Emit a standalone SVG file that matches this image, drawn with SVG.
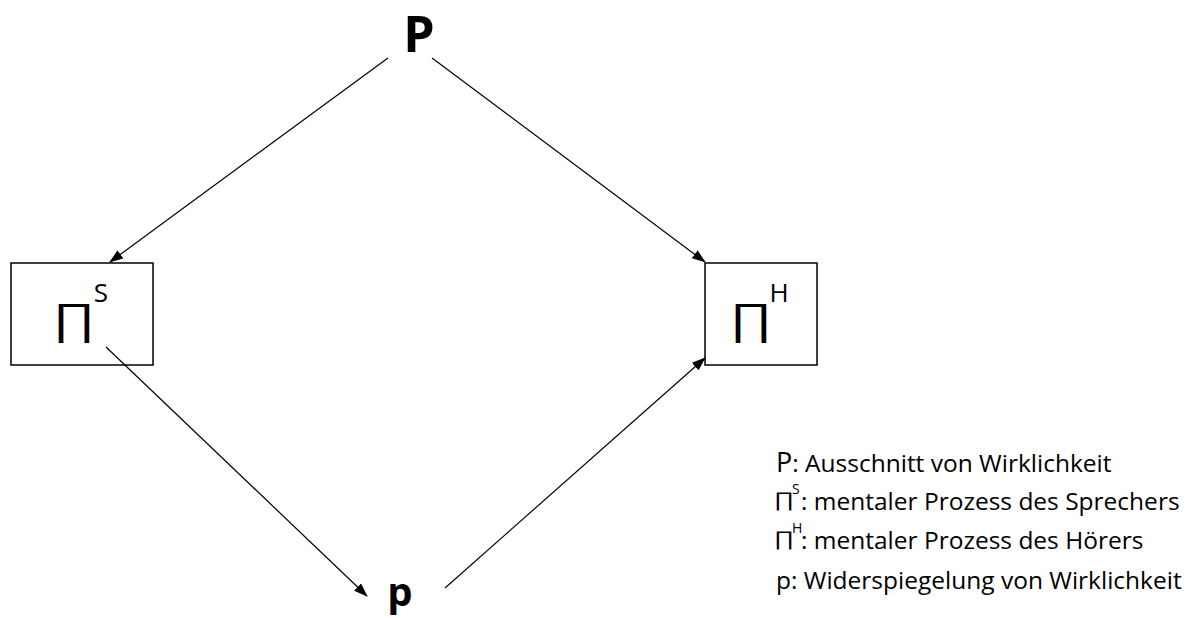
<svg xmlns="http://www.w3.org/2000/svg" width="1197" height="618" viewBox="0 0 1197 618">
<style>
.box{fill:#fff;stroke:#000;stroke-width:1.5}
.ln{stroke:#000;stroke-width:1.2;fill:none;marker-end:url(#ah)}
.t{font-family:"Open Sans","Liberation Sans",sans-serif;fill:#000}
.b{font-weight:bold}
.leg{font-size:24.5px}
.sup{font-size:14px}
</style>
<defs>
<marker id="ah" markerWidth="14" markerHeight="10" refX="13" refY="5" orient="auto" markerUnits="userSpaceOnUse">
<path d="M0,0 L14,5 L0,10 z" fill="#000"/>
</marker>
</defs>
<rect width="1197" height="618" fill="#fff"/>
<g id="node-P"><text class="t b" x="419" y="52" font-size="50" text-anchor="middle">P</text></g>
<g id="node-PiS">
<rect class="box" x="11" y="263" width="142" height="102"/>
<g transform="translate(74,332.5) scale(1,0.73)"><text class="t" x="0" y="0" font-size="56" text-anchor="middle">∏</text></g>
<text class="t" x="101" y="302" font-size="26" text-anchor="middle">S</text>
</g>
<g id="node-PiH">
<rect class="box" x="705" y="263" width="112" height="102"/>
<g transform="translate(751,332.5) scale(1,0.73)"><text class="t" x="0" y="0" font-size="56" text-anchor="middle">∏</text></g>
<text class="t" x="779" y="302" font-size="26" text-anchor="middle">H</text>
</g>
<g id="node-p"><text class="t b" x="400" y="606" font-size="40" text-anchor="middle">p</text></g>
<g id="connectors">
<line class="ln" x1="388" y1="58" x2="110" y2="262"/>
<line class="ln" x1="432" y1="58" x2="705" y2="262"/>
<line class="ln" x1="106" y1="347" x2="367" y2="596"/>
<line class="ln" x1="445" y1="588" x2="705" y2="358"/>
</g>
<g id="legend">
<text class="t leg" x="776" y="472"><tspan font-size="27">P</tspan>: Ausschnitt von Wirklichkeit</text>
<g transform="translate(784,505.5) scale(1,0.7)"><text class="t" x="0" y="0" font-size="27" text-anchor="middle">∏</text></g>
<text class="t sup" x="792" y="494">S</text>
<text class="t leg" x="801" y="510">: mentaler Prozess des Sprechers</text>
<g transform="translate(784,544.5) scale(1,0.7)"><text class="t" x="0" y="0" font-size="27" text-anchor="middle">∏</text></g>
<text class="t sup" x="792" y="533">H</text>
<text class="t leg" x="801" y="549">: mentaler Prozess des Hörers</text>
<text class="t leg" x="776" y="589">p: Widerspiegelung von Wirklichkeit</text>
</g>
</svg>
